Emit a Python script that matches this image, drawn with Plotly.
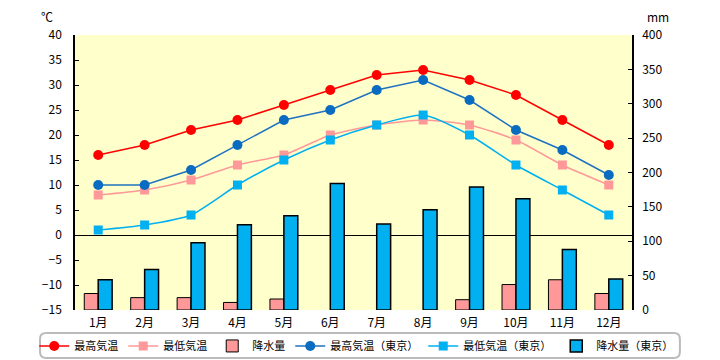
import plotly.graph_objects as go

months = ["1月", "2月", "3月", "4月", "5月", "6月", "7月", "8月", "9月", "10月", "11月", "12月"]
max_temp = [16, 18, 21, 23, 26, 29, 32, 33, 31, 28, 23, 18]
min_temp = [8, 9, 11, 14, 16, 20, 22, 23, 22, 19, 14, 10]
precip = [24, 18, 18, 11, 16, 0, 0, 0, 15, 37, 44, 24]
max_tokyo = [10, 10, 13, 18, 23, 25, 29, 31, 27, 21, 17, 12]
min_tokyo = [1, 2, 4, 10, 15, 19, 22, 24, 20, 14, 9, 4]
precip_tokyo = [44, 59, 98, 124, 137, 184, 125, 146, 179, 162, 88, 45]

FONT = "Noto Sans CJK JP"

fig = go.Figure()
fig.add_trace(go.Scatter(x=months, y=max_temp, name="最高気温", yaxis="y2",
                         mode="lines+markers", line=dict(color="#FF0000", width=1.5),
                         marker=dict(symbol="circle", size=10, color="#FF0000")))
fig.add_trace(go.Scatter(x=months, y=min_temp, name="最低気温", yaxis="y2",
                         mode="lines+markers", line=dict(color="#FF9999", width=1.5, shape="spline", smoothing=0.6),
                         marker=dict(symbol="square", size=9, color="#FF9999")))
fig.add_trace(go.Bar(x=months, y=precip, name="降水量", yaxis="y",
                     marker=dict(color="#FF9999",
                                 line=dict(color="#000000", width=[1 if v > 0 else 0 for v in precip]))))
fig.add_trace(go.Scatter(x=months, y=max_tokyo, name="最高気温（東京）", yaxis="y2",
                         mode="lines+markers", line=dict(color="#1F72C0", width=1.5),
                         marker=dict(symbol="circle", size=10, color="#0A6CC0")))
fig.add_trace(go.Scatter(x=months, y=min_tokyo, name="最低気温（東京）", yaxis="y2",
                         mode="lines+markers", line=dict(color="#00B0F0", width=1.5, shape="spline", smoothing=0.6),
                         marker=dict(symbol="square", size=9, color="#00B0F0")))
fig.add_trace(go.Bar(x=months, y=precip_tokyo, name="降水量（東京）", yaxis="y",
                     marker=dict(color="#00B0F0", line=dict(color="#000000", width=1.5))))

# rounded legend frame (paper coords relative to plot area)
x0, x1, y0, y1 = -0.0628, 1.086, -0.1745, -0.0836
rx, ry = 0.0108, 0.0218
frame = (f"M {x0+rx},{y1} L {x1-rx},{y1} Q {x1},{y1} {x1},{y1-ry} "
         f"L {x1},{y0+ry} Q {x1},{y0} {x1-rx},{y0} L {x0+rx},{y0} "
         f"Q {x0},{y0} {x0},{y0+ry} L {x0},{y1-ry} Q {x0},{y1} {x0+rx},{y1} Z")

fig.update_layout(
    width=720, height=360,
    margin=dict(l=75, r=88, t=35, b=50, autoexpand=False),
    paper_bgcolor="white", plot_bgcolor="#FFFFCC",
    font=dict(family=FONT, size=12, color="black"),
    barmode="group", bargap=0.4, bargroupgap=0,
    showlegend=True,
    legend=dict(orientation="h", xref="paper", yref="paper",
                x=1.083, y=-0.078, xanchor="right", yanchor="top",
                borderwidth=0, bgcolor="rgba(0,0,0,0)",
                font=dict(family=FONT, size=11), itemwidth=30,
                tracegroupgap=0, traceorder="normal"),
    xaxis=dict(type="category", range=[-0.5, len(months) - 0.5], showgrid=False,
               showline=False, ticks="",
               tickfont=dict(family=FONT, size=12), ticklabelstandoff=4),
    yaxis=dict(side="right", range=[0, 400], dtick=50, showgrid=False, zeroline=False,
               showline=True, linecolor="black", linewidth=1.5, ticks="inside", ticklen=4,
               tickcolor="black", tickfont=dict(family=FONT, size=12), ticklabelstandoff=6),
    yaxis2=dict(side="left", overlaying="y", range=[-15, 40], dtick=5, showgrid=False,
                zeroline=True, zerolinecolor="black", zerolinewidth=1,
                showline=True, linecolor="black", linewidth=1.5, ticks="inside", ticklen=4,
                tickcolor="black", tickfont=dict(family=FONT, size=12), ticklabelstandoff=9),
    shapes=[dict(type="path", xref="paper", yref="paper", path=frame,
                 line=dict(color="#BBBBBB", width=2), layer="above")],
    annotations=[
        dict(text="℃", xref="paper", yref="paper", x=-0.05, y=1.066, showarrow=False,
             xanchor="center", yanchor="middle", font=dict(family=FONT, size=12)),
        dict(text="mm", xref="paper", yref="paper", x=1.047, y=1.066, showarrow=False,
             xanchor="center", yanchor="middle", font=dict(family=FONT, size=12)),
    ],
)

fig.write_html("out.html", config={"displayModeBar": False},
               post_script="document.body.style.margin='0';")
